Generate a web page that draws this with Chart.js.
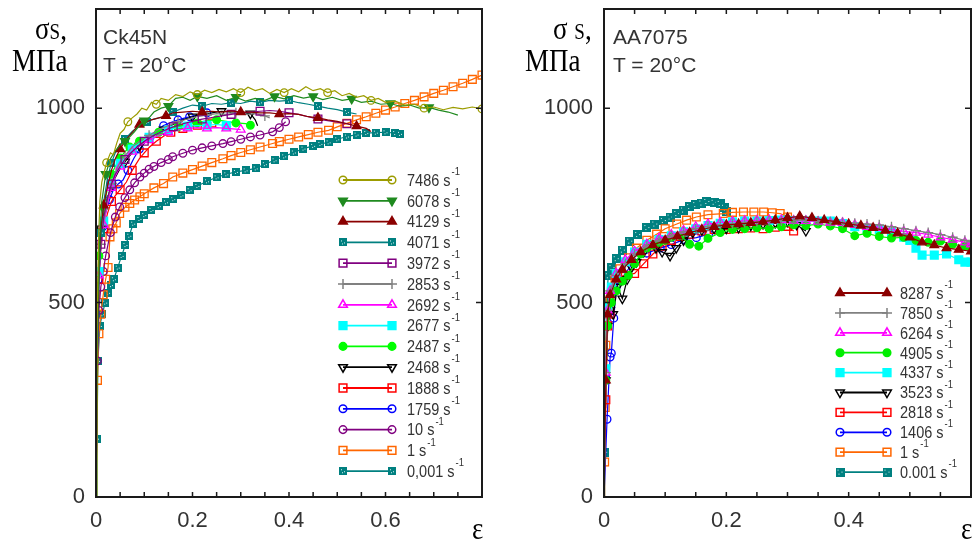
<!DOCTYPE html>
<html>
<head>
<meta charset="utf-8">
<script src="https://cdn.jsdelivr.net/npm/chart.js"></script>
<style>
html, body { margin: 0; padding: 0; background: #fff; }
#page { position: relative; width: 972px; height: 543px; overflow: hidden; }
.box { position: absolute; top: 0; height: 543px; }
.sans { position: absolute; font-family: 'Liberation Sans', Arial, sans-serif; font-size: 21px; line-height: 1; color: #333; white-space: nowrap; }
.serif { position: absolute; font-family: 'Liberation Serif', 'Times New Roman', serif; font-size: 27px; line-height: 1; color: #000; white-space: nowrap; transform: scaleY(1.2); transform-origin: 0 22.6px; }
.serif small { font-size: 19px; }
</style>
</head>
<body>
<div id="page">
  <div class="box" style="left:0;width:490px"><canvas id="ckChart"></canvas></div>
  <div class="box" style="left:490px;width:482px"><canvas id="aaChart"></canvas></div>

  <div class="serif" style="left:35px;top:17.4px">σ<small>S</small>,</div>
  <div class="serif" style="left:12px;top:49px">MΠa</div>
  <div class="sans" style="left:103px;top:25.5px">Ck45N</div>
  <div class="sans" style="left:103px;top:54px">T = 20°C</div>
  <div class="serif" style="left:472px;top:517px">ε</div>

  <div class="serif" style="left:553px;top:17.4px">σ <small>S</small>,</div>
  <div class="serif" style="left:525px;top:49px">MΠa</div>
  <div class="sans" style="left:613px;top:25.5px">AA7075</div>
  <div class="sans" style="left:613px;top:54px">T = 20°C</div>
  <div class="serif" style="left:961px;top:517px">ε</div>
</div>
<script>
// ---- Ck45N, strain vs flow stress (MPa) ----
const ckRates = ['7486', '6078', '4129', '4071', '3972', '2853', '2692', '2677', '2487', '2468', '1888', '1759', '10', '1', '0,001'];
const ck7486 = [[0,0],[0.002,420],[0.005,650],[0.008,760],[0.012,810],[0.016,830],[0.022,860],[0.03,885],[0.036,880],[0.043,910],[0.05,935],[0.058,945],[0.066,965],[0.075,975],[0.085,985],[0.095,1000],[0.105,995],[0.115,1015],[0.125,1010],[0.135,1025],[0.15,1020],[0.165,1035],[0.18,1030],[0.195,1042],[0.21,1035],[0.225,1046],[0.24,1040],[0.255,1048],[0.27,1042],[0.285,1050],[0.3,1040],[0.315,1054],[0.33,1045],[0.345,1050],[0.36,1038],[0.375,1048],[0.39,1040],[0.405,1050],[0.42,1042],[0.435,1055],[0.45,1045],[0.465,1050],[0.48,1040],[0.495,1045],[0.51,1032],[0.525,1038],[0.54,1028],[0.555,1032],[0.57,1020],[0.585,1025],[0.6,1015],[0.62,1018],[0.64,1008],[0.66,1010],[0.68,1000],[0.7,1003],[0.72,996],[0.74,1002],[0.76,998],[0.78,1003],[0.8,998]];
const ck6078 = [[0,0],[0.003,450],[0.007,640],[0.012,760],[0.02,830],[0.03,870],[0.04,890],[0.05,905],[0.06,915],[0.07,926],[0.08,940],[0.09,955],[0.1,968],[0.11,975],[0.12,990],[0.135,1000],[0.15,1005],[0.165,1025],[0.18,1028],[0.195,1020],[0.21,1030],[0.23,1025],[0.25,1032],[0.27,1020],[0.29,1028],[0.31,1018],[0.33,1025],[0.35,1020],[0.37,1030],[0.39,1024],[0.41,1032],[0.43,1026],[0.45,1030],[0.47,1022],[0.49,1028],[0.51,1020],[0.53,1024],[0.55,1015],[0.57,1018],[0.59,1010],[0.61,1012],[0.63,1005],[0.65,1008],[0.67,1000],[0.69,1002],[0.71,995],[0.73,990],[0.75,982]];
const ck4129 = [[0,0],[0.003,420],[0.006,600],[0.01,690],[0.016,750],[0.024,800],[0.032,840],[0.04,870],[0.05,895],[0.06,915],[0.07,930],[0.08,945],[0.09,958],[0.1,962],[0.115,970],[0.13,975],[0.145,980],[0.16,988],[0.18,990],[0.2,992],[0.22,990],[0.24,992],[0.26,990],[0.28,993],[0.3,990],[0.32,990],[0.34,988],[0.36,988],[0.38,985],[0.4,986],[0.42,984],[0.44,978],[0.46,975],[0.48,970],[0.5,966],[0.52,960],[0.54,954],[0.56,948],[0.57,940]];
const ck4071 = [[0,0],[0.003,350],[0.006,560],[0.01,680],[0.016,760],[0.024,820],[0.032,860],[0.04,885],[0.05,905],[0.06,920],[0.075,940],[0.09,955],[0.105,965],[0.12,972],[0.14,978],[0.16,990],[0.18,1000],[0.2,1008],[0.22,1005],[0.24,1012],[0.26,1010],[0.28,1014],[0.3,1012],[0.32,1018],[0.34,1015],[0.36,1020],[0.38,1018],[0.4,1020],[0.42,1014],[0.44,1010],[0.46,1005],[0.48,1000],[0.5,996],[0.52,990],[0.54,985]];
const ck3972 = [[0,0],[0.003,400],[0.006,560],[0.01,650],[0.016,720],[0.024,770],[0.032,805],[0.04,830],[0.05,850],[0.06,868],[0.07,882],[0.085,900],[0.1,915],[0.12,930],[0.14,942],[0.16,952],[0.18,960],[0.2,966],[0.22,972],[0.24,976],[0.26,980],[0.28,984],[0.3,988],[0.32,990],[0.34,992],[0.36,994],[0.38,992],[0.4,988],[0.42,984],[0.44,978],[0.46,972],[0.48,968],[0.5,964],[0.52,960],[0.53,958]];
const ck2853 = [[0,0],[0.003,420],[0.006,580],[0.01,650],[0.016,710],[0.024,765],[0.032,805],[0.04,835],[0.05,860],[0.06,878],[0.075,900],[0.09,915],[0.11,930],[0.13,945],[0.15,955],[0.17,965],[0.19,972],[0.21,978],[0.23,982],[0.25,986],[0.27,984],[0.29,988],[0.31,984],[0.33,986],[0.35,980],[0.36,975]];
const ck2692 = [[0,0],[0.003,420],[0.006,570],[0.01,640],[0.016,700],[0.024,755],[0.032,795],[0.04,825],[0.05,850],[0.06,868],[0.075,888],[0.09,903],[0.11,918],[0.13,930],[0.15,938],[0.17,944],[0.19,948],[0.21,950],[0.23,948],[0.25,950],[0.27,948],[0.29,946],[0.3,945]];
const ck2677 = [[0,0],[0.003,430],[0.006,580],[0.01,650],[0.016,710],[0.024,765],[0.032,805],[0.04,835],[0.05,858],[0.06,876],[0.075,895],[0.09,910],[0.11,925],[0.13,936],[0.15,944],[0.17,950],[0.19,954],[0.21,955],[0.23,956],[0.25,958],[0.27,955],[0.28,952]];
const ck2487 = [[0,0],[0.003,450],[0.006,620],[0.01,690],[0.016,745],[0.024,795],[0.032,830],[0.04,850],[0.05,872],[0.06,888],[0.07,900],[0.08,908],[0.09,915],[0.11,928],[0.13,938],[0.15,945],[0.17,952],[0.19,958],[0.21,962],[0.23,968],[0.25,970],[0.27,966],[0.29,962],[0.31,960],[0.32,956]];
const ck2468 = [[0,0],[0.003,480],[0.006,640],[0.01,690],[0.016,730],[0.024,770],[0.032,800],[0.04,822],[0.05,845],[0.06,862],[0.07,878],[0.08,890],[0.09,903],[0.1,914],[0.12,930],[0.14,945],[0.16,958],[0.18,970],[0.2,978],[0.22,985],[0.24,988],[0.26,992],[0.28,990],[0.3,990],[0.32,986],[0.33,970],[0.335,955]];
const ck1888 = [[0,0],[0.003,400],[0.006,560],[0.01,640],[0.016,690],[0.024,730],[0.032,760],[0.04,775],[0.05,790],[0.063,810],[0.075,840],[0.09,870],[0.1,885],[0.111,900],[0.125,915],[0.14,928],[0.155,938],[0.166,943],[0.18,948],[0.194,952],[0.21,956],[0.225,960],[0.24,962]];
const ck1759 = [[0,0],[0.003,380],[0.006,560],[0.01,650],[0.014,695],[0.02,730],[0.028,765],[0.036,790],[0.046,805],[0.056,815],[0.066,840],[0.078,870],[0.09,895],[0.1,910],[0.112,925],[0.125,943],[0.14,955],[0.155,963],[0.17,970],[0.185,975],[0.194,978],[0.21,982],[0.23,988]];
const ck10 = [[0,0],[0.003,350],[0.006,480],[0.01,540],[0.015,580],[0.02,620],[0.03,680],[0.04,720],[0.049,746],[0.06,770],[0.07,790],[0.08,808],[0.091,823],[0.1,833],[0.11,843],[0.12,850],[0.135,860],[0.15,868],[0.159,875],[0.18,884],[0.2,892],[0.22,898],[0.24,903],[0.263,909],[0.28,914],[0.3,920],[0.32,926],[0.34,931],[0.366,939],[0.38,950],[0.393,965]];
const ck1 = [[0,0],[0.003,300],[0.006,420],[0.01,470],[0.015,520],[0.02,560],[0.025,590],[0.029,669],[0.035,690],[0.042,705],[0.049,729],[0.06,745],[0.07,755],[0.08,764],[0.091,772],[0.1,780],[0.12,795],[0.14,806],[0.159,823],[0.18,833],[0.2,842],[0.22,851],[0.24,860],[0.263,870],[0.28,878],[0.3,886],[0.32,893],[0.34,900],[0.366,909],[0.38,914],[0.4,920],[0.42,926],[0.44,932],[0.46,938],[0.482,943],[0.5,952],[0.52,961],[0.54,970],[0.56,978],[0.58,987],[0.6,995],[0.62,1003],[0.64,1012],[0.66,1020],[0.68,1029],[0.7,1038],[0.72,1046],[0.74,1055],[0.76,1064],[0.78,1074],[0.8,1085]];
const ck0001 = [[0,0],[0.002,150],[0.004,350],[0.008,440],[0.013,470],[0.019,500],[0.025,525],[0.031,545],[0.037,560],[0.045,590],[0.053,620],[0.061,648],[0.069,672],[0.077,703],[0.09,715],[0.1,725],[0.115,738],[0.13,748],[0.145,758],[0.16,766],[0.177,776],[0.194,789],[0.21,800],[0.23,812],[0.25,822],[0.27,830],[0.29,836],[0.31,840],[0.331,845],[0.35,856],[0.37,866],[0.39,876],[0.41,886],[0.43,896],[0.45,903],[0.465,908],[0.482,912],[0.5,920],[0.52,927],[0.54,932],[0.56,936],[0.58,937],[0.6,938],[0.62,936],[0.63,934]];
const ckStrainLabels = [0, 0.2, 0.4, 0.6];
const ckStrainMinor = [0.05, 0.1, 0.15, 0.2, 0.25, 0.3, 0.35, 0.4, 0.45, 0.5, 0.55, 0.6, 0.65, 0.7, 0.75];

// ---- AA7075 ----
const aaRates = ['8287', '7850', '6264', '4905', '4337', '3523', '2818', '1406', '1', '0.001'];
const aa8287 = [[0,0],[0.003,300],[0.006,470],[0.01,520],[0.02,560],[0.03,585],[0.045,610],[0.06,630],[0.08,648],[0.1,660],[0.12,670],[0.14,680],[0.16,688],[0.18,695],[0.2,700],[0.22,702],[0.24,705],[0.26,708],[0.28,712],[0.3,718],[0.32,722],[0.34,718],[0.36,712],[0.38,708],[0.4,702],[0.42,698],[0.44,692],[0.46,685],[0.48,678],[0.5,668],[0.52,655],[0.54,648],[0.56,640],[0.58,636],[0.6,632]];
const aa7850 = [[0,0],[0.003,320],[0.006,480],[0.01,530],[0.02,570],[0.035,600],[0.05,625],[0.07,645],[0.09,660],[0.11,672],[0.13,682],[0.15,690],[0.17,696],[0.19,700],[0.21,703],[0.23,706],[0.25,708],[0.27,710],[0.29,710],[0.31,712],[0.33,712],[0.35,710],[0.37,708],[0.39,706],[0.41,704],[0.43,702],[0.45,700],[0.47,695],[0.49,690],[0.51,685],[0.53,680],[0.55,675],[0.57,668],[0.59,660],[0.6,656]];
const aa6264 = [[0,0],[0.003,320],[0.006,480],[0.01,530],[0.02,575],[0.035,610],[0.05,632],[0.07,650],[0.09,665],[0.11,675],[0.13,685],[0.15,695],[0.17,702],[0.19,706],[0.21,708],[0.23,710],[0.25,711],[0.27,712],[0.29,712],[0.31,711],[0.33,710],[0.35,708],[0.37,706],[0.39,705],[0.41,700],[0.43,695],[0.45,692],[0.47,688],[0.49,683],[0.51,680],[0.53,675],[0.55,668],[0.57,662],[0.59,655],[0.6,650]];
const aa4905 = [[0,0],[0.003,300],[0.006,440],[0.012,500],[0.02,530],[0.03,555],[0.04,570],[0.05,600],[0.06,625],[0.07,640],[0.08,648],[0.09,655],[0.1,660],[0.11,668],[0.125,672],[0.14,650],[0.155,645],[0.17,665],[0.19,680],[0.21,688],[0.23,690],[0.25,692],[0.27,690],[0.29,695],[0.31,700],[0.33,698],[0.35,702],[0.37,697],[0.39,690],[0.41,672],[0.43,678],[0.45,670],[0.47,666],[0.49,668],[0.51,660],[0.53,655],[0.55,658],[0.57,650],[0.59,645],[0.6,640]];
const aa4337 = [[0,0],[0.003,330],[0.006,490],[0.012,540],[0.02,575],[0.035,605],[0.05,630],[0.07,650],[0.09,662],[0.11,672],[0.13,682],[0.15,690],[0.17,698],[0.19,704],[0.21,708],[0.23,710],[0.25,710],[0.27,711],[0.29,712],[0.31,711],[0.33,710],[0.35,710],[0.37,710],[0.39,703],[0.41,695],[0.43,690],[0.45,688],[0.47,680],[0.49,668],[0.5,660],[0.51,640],[0.52,622],[0.54,622],[0.56,625],[0.58,610],[0.59,604],[0.6,604]];
const aa3523 = [[0,0],[0.003,300],[0.006,440],[0.01,480],[0.015,470],[0.022,540],[0.03,510],[0.038,560],[0.045,590],[0.053,604],[0.065,630],[0.075,650],[0.085,640],[0.095,630],[0.108,620],[0.118,640],[0.13,660],[0.145,680],[0.16,686],[0.18,690],[0.2,690],[0.22,692],[0.24,698],[0.26,702],[0.28,705],[0.3,708],[0.315,700],[0.33,684]];
const aa2818 = [[0,0],[0.003,250],[0.006,440],[0.01,470],[0.02,565],[0.035,570],[0.05,575],[0.065,600],[0.08,625],[0.095,645],[0.11,660],[0.125,670],[0.14,676],[0.16,684],[0.18,688],[0.2,688],[0.22,690],[0.24,692],[0.26,690],[0.28,694],[0.3,696],[0.31,684]];
const aa1406 = [[0,0],[0.005,200],[0.01,360],[0.012,370],[0.016,460],[0.02,540],[0.032,569],[0.048,604],[0.07,627],[0.092,640],[0.11,649],[0.13,662],[0.151,667],[0.171,676]];
const aa1 = [[0,0],[0.001,90],[0.002,230],[0.003,390],[0.006,480],[0.01,507],[0.018,560],[0.026,587],[0.04,615],[0.053,640],[0.07,660],[0.086,676],[0.1,690],[0.119,702],[0.135,712],[0.151,720],[0.17,726],[0.195,729],[0.21,732],[0.228,733],[0.245,733],[0.261,733],[0.275,731],[0.288,729],[0.3,720],[0.31,702]];
const aa0001 = [[0,0],[0.001,115],[0.002,302],[0.004,500],[0.007,569],[0.013,590],[0.02,613],[0.03,635],[0.042,658],[0.055,675],[0.07,693],[0.083,702],[0.097,711],[0.108,720],[0.119,729],[0.13,738],[0.14,747],[0.15,752],[0.16,756],[0.168,760],[0.18,758],[0.19,755],[0.197,745],[0.2,733]];
const aaStrainLabels = [0, 0.2, 0.4];
const aaStrainMinor = [0.05, 0.1, 0.15, 0.2, 0.25, 0.3, 0.35, 0.4, 0.45, 0.5, 0.55];

const stressLabels = [0, 500, 1000];

// teal square with light specks, as in the original
function speckled(size) {
  const c = document.createElement('canvas');
  c.width = size; c.height = size;
  const g = c.getContext('2d');
  g.fillStyle = '#008080';
  g.fillRect(0, 0, size, size);
  g.fillStyle = '#d8f0f0';
  g.fillRect(2, 2, 1, 1);
  g.fillRect(size - 3, Math.floor(size / 2), 1, 1);
  g.fillRect(3, size - 3, 1, 1);
  return c;
}

const shapes = {
  circle: {pointStyle: 'circle', rot: 0, r: 3.8},
  tri: {pointStyle: 'triangle', rot: 0, r: 5},
  triDown: {pointStyle: 'triangle', rot: 180, r: 5},
  rect: {pointStyle: 'rect', rot: 0, r: 5.5},
  cross: {pointStyle: 'cross', rot: 0, r: 5}
};

function series(pairs, color, shape, filled, every) {
  const s = typeof shape === 'string' ? shapes[shape] : {pointStyle: shape, rot: 0, r: 4};
  return {
    data: pairs.map(p => ({x: p[0], y: p[1]})),
    borderColor: color,
    backgroundColor: color,
    borderWidth: 1.2,
    pointStyle: s.pointStyle,
    pointRotation: s.rot,
    pointBorderColor: color,
    pointBackgroundColor: filled ? color : 'rgba(255,255,255,0)',
    pointBorderWidth: 1.3,
    pointRadius: ctx => (ctx.dataIndex > 0 && ctx.dataIndex % every === 0) ? s.r : 0,
    legendRadius: s.r,
    tension: 0
  };
}

const frame = {
  id: 'frame',
  afterDatasetsDraw(chart, args, o) {
    const {ctx, chartArea: a, scales: {x, y}} = chart;
    ctx.save();
    ctx.strokeStyle = '#1a1a1a';
    ctx.lineWidth = 2;
    ctx.strokeRect(a.left, a.top, a.right - a.left, a.bottom - a.top);
    ctx.lineWidth = 1.5;
    ctx.beginPath();
    o.xMinor.forEach(v => {
      const px = x.getPixelForValue(v);
      ctx.moveTo(px, a.top); ctx.lineTo(px, a.top + 5);
      ctx.moveTo(px, a.bottom); ctx.lineTo(px, a.bottom - 5);
    });
    o.yMinor.forEach(v => {
      const py = y.getPixelForValue(v);
      ctx.moveTo(a.left, py); ctx.lineTo(a.left + 6, py);
      ctx.moveTo(a.right, py); ctx.lineTo(a.right - 6, py);
    });
    ctx.stroke();
    ctx.restore();
  }
};

// legend inside the plot: a short line with a marker at each end
const inLegend = {
  id: 'inLegend',
  afterDraw(chart, args, o) {
    const ctx = chart.ctx;
    const drawPoint = Chart.helpers.drawPoint;
    ctx.save();
    chart.data.datasets.forEach((ds, i) => {
      const y = o.y0 + i * o.dy;
      ctx.strokeStyle = ds.borderColor;
      ctx.lineWidth = 1.8;
      ctx.beginPath(); ctx.moveTo(o.x1, y); ctx.lineTo(o.x2, y); ctx.stroke();
      ctx.fillStyle = ds.pointBackgroundColor;
      ctx.lineWidth = 1.5;
      [o.x1, o.x2].forEach(px => drawPoint(ctx, {pointStyle: ds.pointStyle, rotation: ds.pointRotation, radius: ds.legendRadius, borderWidth: 1.5}, px, y));
      // text is a bit tall and narrow in the source, so stretch it
      ctx.save();
      ctx.translate(o.tx, y + 1);
      ctx.scale(1, 1.2);
      ctx.fillStyle = '#333';
      ctx.textAlign = 'left';
      ctx.textBaseline = 'middle';
      ctx.font = o.font;
      const t = o.labels[i] + ' s';
      ctx.fillText(t, 0, 0);
      const w = ctx.measureText(t).width;
      ctx.font = o.supFont;
      ctx.fillText('-1', w + 1, -7.5);
      ctx.restore();
    });
    ctx.restore();
  }
};

const tickFont = {family: "'Liberation Sans', Arial, sans-serif", size: 22};
const legendFont = "14.5px 'Liberation Sans', Arial, sans-serif";
const supFont = "9.5px 'Liberation Sans', Arial, sans-serif";

function makeChart(id, datasets, xMax, xLabels, xMinor, yWidth, padRight, legendOpts) {
  return new Chart(document.getElementById(id), {
    type: 'line',
    data: {datasets: datasets},
    options: {
      responsive: true,
      maintainAspectRatio: false,
      animation: false,
      events: [],
      layout: {autoPadding: false, padding: {top: 9, right: padRight, left: 0, bottom: 0}},
      plugins: {
        legend: {display: false},
        tooltip: {enabled: false},
        frame: {xMinor: xMinor, yMinor: [500, 1000]},
        inLegend: legendOpts
      },
      scales: {
        x: {
          type: 'linear', min: 0, max: xMax,
          grid: {display: false, drawTicks: false},
          border: {display: false},
          ticks: {font: tickFont, color: '#333', padding: 11, maxRotation: 0, callback: v => String(v)},
          afterBuildTicks: s => { s.ticks = xLabels.map(v => ({value: v})); },
          afterFit: s => { s.height = 46; s.paddingLeft = 0; s.paddingRight = 0; }
        },
        y: {
          type: 'linear', min: 0, max: 1255,
          grid: {display: false, drawTicks: false},
          border: {display: false},
          ticks: {font: tickFont, color: '#333', padding: 11, callback: v => String(v)},
          afterBuildTicks: s => { s.ticks = stressLabels.map(v => ({value: v})); },
          afterFit: s => { s.width = yWidth; s.paddingTop = 0; s.paddingBottom = 0; }
        }
      }
    },
    plugins: [frame, inLegend]
  });
}

const dotSmall = speckled(8);
const dotBig = speckled(9);

makeChart('ckChart', [
  series(ck7486, '#9c9c00', 'circle', false, 6),
  series(ck6078, '#1f8a1f', 'triDown', true, 4),
  series(ck4129, '#8b0000', 'tri', true, 4),
  series(ck4071, '#008080', dotSmall, true, 3),
  series(ck3972, '#800080', 'rect', false, 3),
  series(ck2853, '#808080', 'cross', false, 3),
  series(ck2692, '#ff00ff', 'tri', false, 2),
  series(ck2677, '#00ffff', 'rect', true, 2),
  series(ck2487, '#00ff00', 'circle', true, 2),
  series(ck2468, '#000000', 'triDown', false, 3),
  series(ck1888, '#ff0000', 'rect', false, 2),
  series(ck1759, '#0000ff', 'circle', false, 2),
  series(ck10, '#800080', 'circle', false, 1),
  series(ck1, '#ff6600', 'rect', false, 1),
  series(ck0001, '#008080', dotSmall, true, 1)
], 0.8, ckStrainLabels, ckStrainMinor, 96, 8,
  {x1: 343, x2: 392, tx: 407, y0: 180, dy: 20.8, labels: ckRates, font: legendFont, supFont: supFont});

makeChart('aaChart', [
  series(aa8287, '#8b0000', 'tri', true, 1),
  series(aa7850, '#808080', 'cross', false, 1),
  series(aa6264, '#ff00ff', 'tri', false, 1),
  series(aa4905, '#00ee00', 'circle', true, 1),
  series(aa4337, '#00ffff', 'rect', true, 1),
  series(aa3523, '#000000', 'triDown', false, 1),
  series(aa2818, '#ff0000', 'rect', false, 1),
  series(aa1406, '#0000ff', 'circle', false, 1),
  series(aa1, '#ff6600', 'rect', false, 1),
  series(aa0001, '#008080', dotBig, true, 1)
], 0.6, aaStrainLabels, aaStrainMinor, 114, 1,
  {x1: 350, x2: 397, tx: 410, y0: 293, dy: 19.9, labels: aaRates, font: legendFont, supFont: supFont});
</script>
</body>
</html>
